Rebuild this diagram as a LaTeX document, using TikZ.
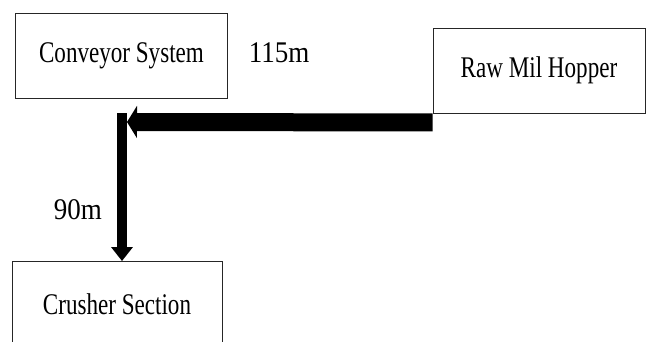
\documentclass[tikz,border=0pt]{standalone}
\usepackage{fontspec}
\setmainfont{Liberation Serif}
\newfontfamily\boxfont[FakeStretch=0.77]{Liberation Serif}
\newfontfamily\numfont[FakeStretch=0.9]{Liberation Serif}
\usetikzlibrary{arrows.meta}
\begin{document}
\begin{tikzpicture}[x=1pt,y=-1pt,
  unitbox/.style={draw=black!85,line width=0.9pt,minimum width=212pt,minimum height=85pt,inner sep=0pt,
    font=\boxfont\fontsize{30}{32}\selectfont},
  distlabel/.style={inner sep=0pt,font=\numfont\fontsize{30}{32}\selectfont},
  flowh/.style={line width=18pt,-{Triangle[length=10pt,width=32pt]}},
  flowv/.style={line width=10pt,-{Triangle[length=14pt,width=21pt]}}]
\useasboundingbox (0,0) rectangle (646,341);
\clip (0,0) rectangle (646,341);
\node[unitbox] (conv) at (121.5,55.5) {Conveyor System};
\node[unitbox] (hopper) at (539,70.5) {Raw Mil Hopper};
\node[unitbox,minimum width=210pt] (crush) at (117,304) {Crusher Section};
\node[distlabel] (l115) at (279,53) {115m};
\node[distlabel] (l90) at (78,210) {90m};
\coordinate (hs) at ([yshift=-9pt]hopper.south west);
\coordinate (he) at (127,122);
\coordinate (vs) at (122,113);
\coordinate (ve) at (crush.north -| vs);
\draw[flowh] (hs) -- (he);
\draw[flowv] (vs) -- (ve);
\end{tikzpicture}
\end{document}
